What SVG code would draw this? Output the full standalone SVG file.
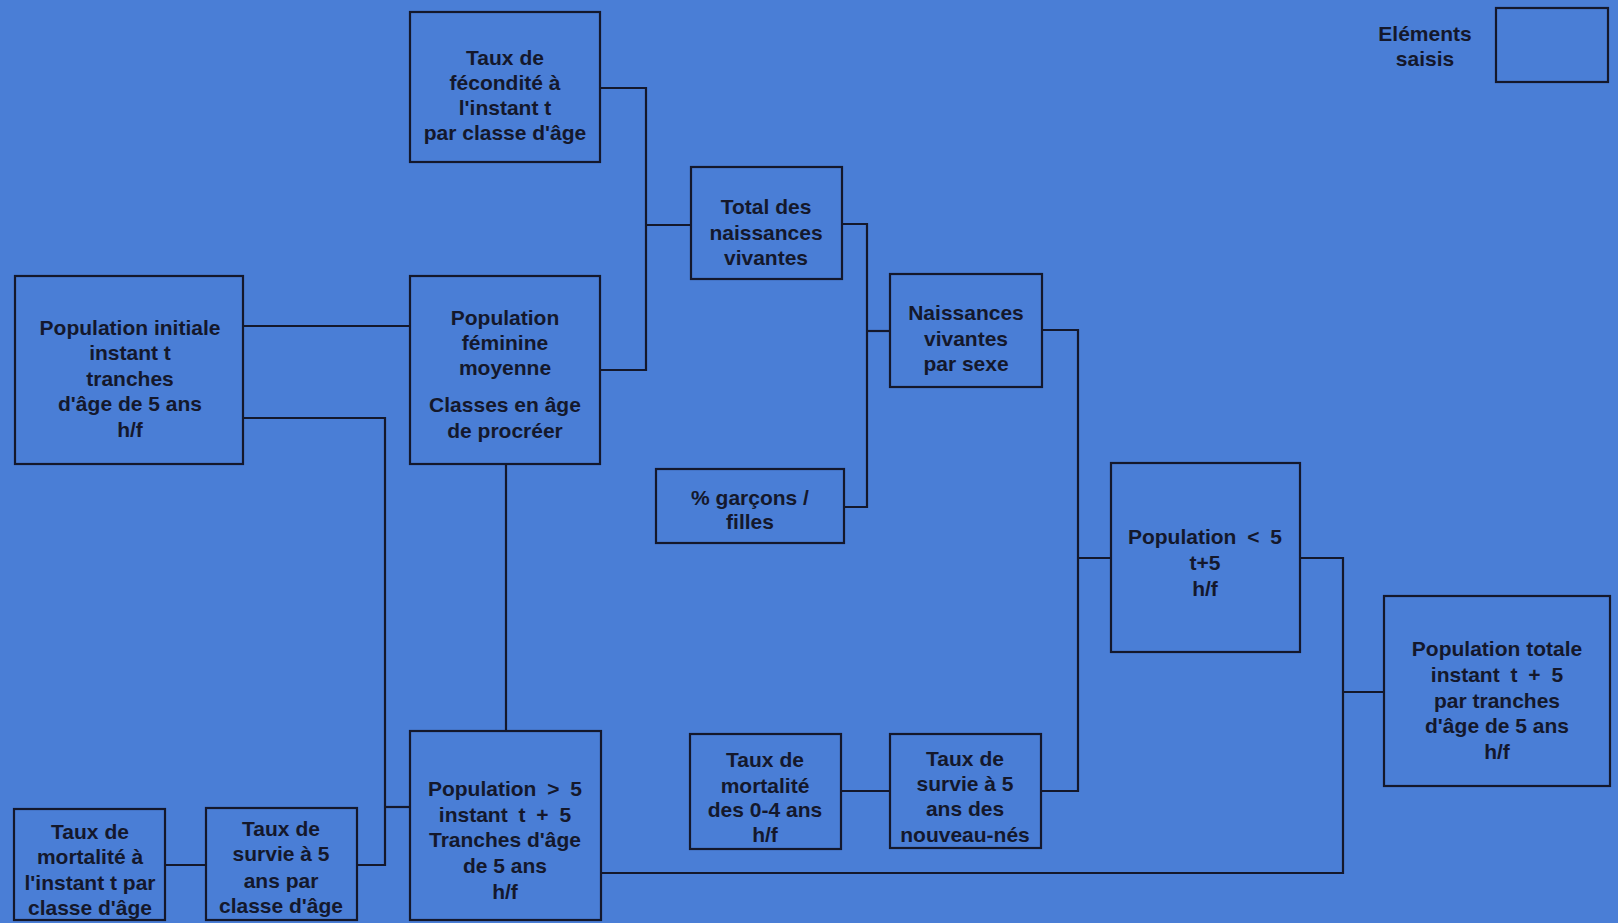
<svg xmlns="http://www.w3.org/2000/svg" width="1618" height="923" viewBox="0 0 1618 923">
<style>
.bg{fill:#4a7ed6}
.box{fill:none;stroke:#14182c;stroke-width:2.2}
.ln{fill:none;stroke:#14182c;stroke-width:2.2}
text{font-family:"Liberation Sans",Arial,sans-serif;font-weight:bold;font-size:21px;fill:#14182c;text-anchor:middle}
.ws{word-spacing:5px}
</style>
<rect class="bg" x="0" y="0" width="1618" height="923"/>
<g id="connectors">
<polyline class="ln" points="600,88 646,88 646,370 600,370"/>
<line class="ln" x1="646" y1="225" x2="691" y2="225"/>
<line class="ln" x1="243" y1="326" x2="410" y2="326"/>
<polyline class="ln" points="243,418 385,418 385,865 357,865"/>
<line class="ln" x1="385" y1="807" x2="410" y2="807"/>
<line class="ln" x1="506" y1="464" x2="506" y2="731"/>
<line class="ln" x1="165" y1="865" x2="206" y2="865"/>
<polyline class="ln" points="842,224 867,224 867,507 844,507"/>
<line class="ln" x1="867" y1="331" x2="890" y2="331"/>
<polyline class="ln" points="1042,330 1078,330 1078,791 1041,791"/>
<line class="ln" x1="1078" y1="558" x2="1111" y2="558"/>
<line class="ln" x1="841" y1="791" x2="890" y2="791"/>
<polyline class="ln" points="1300,558 1343,558 1343,873 601,873"/>
<line class="ln" x1="1343" y1="692" x2="1384" y2="692"/>
</g>
<g id="legend">
<rect class="box" x="1496" y="8" width="112" height="74"/>
<text x="1425" y="41">Eléments</text>
<text x="1425" y="66">saisis</text>
</g>
<g id="n-fecondite">
<rect class="box" x="410" y="12" width="190" height="150"/>
<text x="505" y="65">Taux de</text>
<text x="505" y="90">fécondité à</text>
<text x="505" y="115">l'instant t</text>
<text x="505" y="140">par classe d'âge</text>
</g>
<g id="n-total-naissances">
<rect class="box" x="691" y="167" width="151" height="112"/>
<text x="766" y="214">Total des</text>
<text x="766" y="240">naissances</text>
<text x="766" y="265">vivantes</text>
</g>
<g id="n-pop-initiale">
<rect class="box" x="15" y="276" width="228" height="188"/>
<text x="130" y="335">Population initiale</text>
<text x="130" y="360">instant t</text>
<text x="130" y="386">tranches</text>
<text x="130" y="411">d'âge de 5 ans</text>
<text x="130" y="437">h/f</text>
</g>
<g id="n-pop-feminine">
<rect class="box" x="410" y="276" width="190" height="188"/>
<text x="505" y="325">Population</text>
<text x="505" y="350">féminine</text>
<text x="505" y="375">moyenne</text>
<text x="505" y="412">Classes en âge</text>
<text x="505" y="438">de procréer</text>
</g>
<g id="n-naissances-sexe">
<rect class="box" x="890" y="274" width="152" height="113"/>
<text x="966" y="320">Naissances</text>
<text x="966" y="346">vivantes</text>
<text x="966" y="371">par sexe</text>
</g>
<g id="n-garcons-filles">
<rect class="box" x="656" y="469" width="188" height="74"/>
<text x="750" y="505">% garçons /</text>
<text x="750" y="529">filles</text>
</g>
<g id="n-pop-moins5">
<rect class="box" x="1111" y="463" width="189" height="189"/>
<text class="ws" x="1205" y="544">Population &lt; 5</text>
<text x="1205" y="570">t+5</text>
<text x="1205" y="596">h/f</text>
</g>
<g id="n-pop-totale">
<rect class="box" x="1384" y="596" width="226" height="190"/>
<text x="1497" y="656">Population totale</text>
<text class="ws" x="1497" y="682">instant t + 5</text>
<text x="1497" y="708">par tranches</text>
<text x="1497" y="733">d'âge de 5 ans</text>
<text x="1497" y="759">h/f</text>
</g>
<g id="n-pop-plus5">
<rect class="box" x="410" y="731" width="191" height="189"/>
<text class="ws" x="505" y="796">Population &gt; 5</text>
<text class="ws" x="505" y="822">instant t + 5</text>
<text x="505" y="847">Tranches d'âge</text>
<text x="505" y="873">de 5 ans</text>
<text x="505" y="899">h/f</text>
</g>
<g id="n-mortalite-04">
<rect class="box" x="690" y="734" width="151" height="115"/>
<text x="765" y="767">Taux de</text>
<text x="765" y="793">mortalité</text>
<text x="765" y="817">des 0-4 ans</text>
<text x="765" y="842">h/f</text>
</g>
<g id="n-survie-nn">
<rect class="box" x="890" y="734" width="151" height="114"/>
<text x="965" y="766">Taux de</text>
<text x="965" y="791">survie à 5</text>
<text x="965" y="816">ans des</text>
<text x="965" y="842">nouveau-nés</text>
</g>
<g id="n-mortalite-instant">
<rect class="box" x="14" y="809" width="151" height="111"/>
<text x="90" y="839">Taux de</text>
<text x="90" y="864">mortalité à</text>
<text x="90" y="890">l'instant t par</text>
<text x="90" y="915">classe d'âge</text>
</g>
<g id="n-survie-classe">
<rect class="box" x="206" y="808" width="151" height="112"/>
<text x="281" y="836">Taux de</text>
<text x="281" y="861">survie à 5</text>
<text x="281" y="888">ans par</text>
<text x="281" y="913">classe d'âge</text>
</g>
</svg>
